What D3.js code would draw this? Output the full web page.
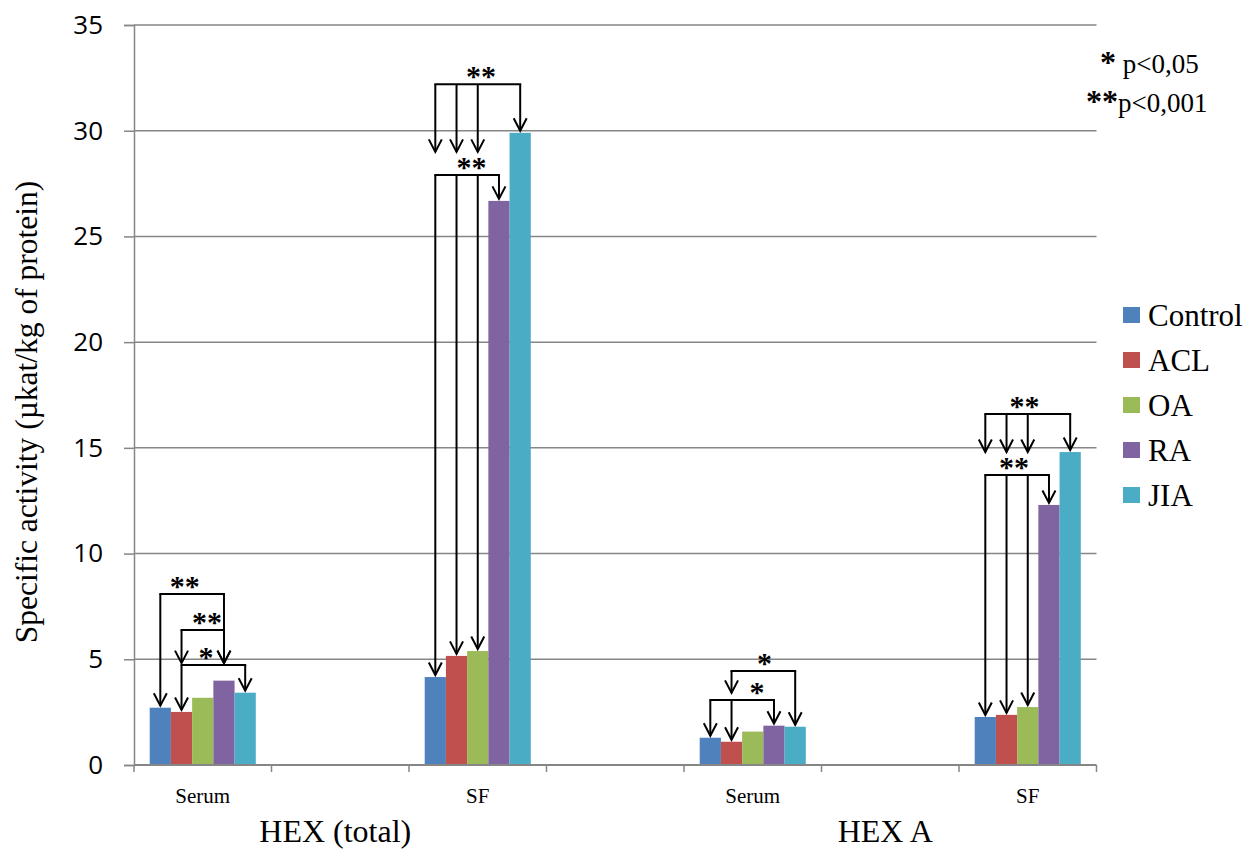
<!DOCTYPE html>
<html lang="en">
    <head>
        <meta charset="utf-8">
        <style>
            body { margin: 0; background: #fff; }
        </style>
    </head>
    <body>

        <svg id="mysvg" width="1256" height="849"></svg>

        <script src="https://cdn.jsdelivr.net/npm/d3@7"></script>

        <script>
            // categories on the x axis (empty slots are the gaps between groups)
            var categories = ["Serum", "", "SF", "", "Serum", "", "SF"];
            var groupTitles = ["HEX (total)", "HEX A"];
            var series = ["Control", "ACL", "OA", "RA", "JIA"];
            var colors = ["#4F81BD", "#C0504D", "#9BBB59", "#8064A2", "#4BACC6"];
            var yTicks = [0, 5, 10, 15, 20, 25, 30, 35];

            // values per series, one per category slot
            var control = [2.71, null, 4.16, null, 1.29, null, 2.27];
            var acl     = [2.51, null, 5.16, null, 1.10, null, 2.37];
            var oa      = [3.18, null, 5.39, null, 1.58, null, 2.74];
            var ra      = [3.99, null, 26.68, null, 1.86, null, 12.3];
            var jia     = [3.42, null, 29.9, null, 1.81, null, 14.8];
            var values = [control, acl, oa, ra, jia];

            // significance brackets: category, bracket level, label (+ where it sits, in series units),
            // arrows [series, tip value or null = bar top]
            var brackets = [
                {cat: 0, level: 8.09, label: "**", at: 1.15, arrows: [[0, null], [3, 4.82]]},
                {cat: 0, level: 6.39, label: "**", at: 2.2,  arrows: [[1, 4.82], [3, 4.82]]},
                {cat: 0, level: 4.73, label: "*",  at: 2.15, arrows: [[1, null], [4, null]]},
                {cat: 2, level: 32.2, label: "**", at: 2.15, arrows: [[0, 29.0], [1, 29.0], [2, 29.0], [4, null]]},
                {cat: 2, level: 27.9, label: "**", at: 1.7,  arrows: [[0, null], [1, null], [2, null], [3, null]]},
                {cat: 4, level: 4.45, label: "*",  at: 2.55, arrows: [[1, 3.41], [4, null]]},
                {cat: 4, level: 3.07, label: "*",  at: 2.2,  arrows: [[0, null], [1, null], [3, null]]},
                {cat: 6, level: 16.6, label: "**", at: 1.85, arrows: [[0, 14.8], [1, 14.8], [2, 14.8], [4, null]]},
                {cat: 6, level: 13.72, label: "**", at: 1.35, arrows: [[0, null], [1, null], [2, null], [3, null]]}
            ];

            var svg = d3.select("#mysvg");
            var plotLeft = 134, plotRight = 1096.5, plotTop = 25, plotBottom = 765;
            var serif = "'Liberation Serif', 'Times New Roman', serif";

            var x0 = d3.scaleBand()
                .domain(d3.range(categories.length))
                .range([plotLeft, plotRight]);

            var x1 = d3.scaleBand()
                .domain(d3.range(series.length))
                .range([0, x0.bandwidth()])
                .paddingOuter(0.74);

            var y = d3.scaleLinear()
                .domain([0, 35])
                .range([plotBottom, plotTop]);

            // gridlines
            svg.append("g")
                .selectAll("line")
                .data(yTicks.slice(1))
                .enter()
                .append("line")
                .attr("x1", plotLeft)
                .attr("x2", plotRight)
                .attr("y1", function(d){ return y(d); })
                .attr("y2", function(d){ return y(d); })
                .attr("stroke", "#868686")
                .attr("stroke-width", 1.5);

            // y axis
            var yAxis = svg.append("g")
                .attr("transform", "translate(" + plotLeft + ",0)")
                .call(d3.axisLeft(y).tickValues(yTicks).tickSize(10).tickPadding(21));
            yAxis.select(".domain").attr("stroke", "#868686").attr("stroke-width", 1.5);
            yAxis.selectAll(".tick line").attr("stroke", "#868686").attr("stroke-width", 1.5);
            yAxis.selectAll("text")
                .attr("font-family", "'Open Sans', sans-serif")
                .attr("font-size", 26)
                .attr("fill", "#000");

            // bars
            var groups = svg.append("g")
                .selectAll("g")
                .data(series)
                .enter()
                .append("g")
                .attr("fill", function(d, i){ return colors[i]; });

            groups.each(function(s, si){
                d3.select(this).selectAll("rect")
                    .data(values[si].map(function(v, ci){ return {v: v, c: ci}; })
                        .filter(function(d){ return d.v != null; }))
                    .enter()
                    .append("rect")
                    .attr("x", function(d){ return x0(d.c) + x1(si); })
                    .attr("width", x1.bandwidth())
                    .attr("y", function(d){ return y(d.v); })
                    .attr("height", function(d){ return plotBottom - y(d.v); });
            });

            // x axis with ticks between categories
            var xAxis = svg.append("g");
            xAxis.append("line")
                .attr("x1", plotLeft)
                .attr("x2", plotRight)
                .attr("y1", plotBottom)
                .attr("y2", plotBottom)
                .attr("stroke", "#868686")
                .attr("stroke-width", 2);
            xAxis.selectAll(".xt")
                .data(d3.range(categories.length + 1))
                .enter()
                .append("line")
                .attr("class", "xt")
                .attr("x1", function(d){ return plotLeft + d * x0.step(); })
                .attr("x2", function(d){ return plotLeft + d * x0.step(); })
                .attr("y1", plotBottom)
                .attr("y2", plotBottom + 7)
                .attr("stroke", "#868686")
                .attr("stroke-width", 1.5);
            xAxis.selectAll("text")
                .data(categories)
                .enter()
                .append("text")
                .attr("x", function(d, i){ return x0(i) + x0.bandwidth() / 2; })
                .attr("y", 803)
                .attr("text-anchor", "middle")
                .attr("font-family", serif)
                .attr("font-size", 21)
                .text(function(d){ return d; });

            // group titles under the axis
            svg.selectAll(".gt")
                .data(groupTitles)
                .enter()
                .append("text")
                .attr("class", "gt")
                .attr("x", function(d, i){
                    return (x0(i * 4) + x0(i * 4 + 2)) / 2 + x0.bandwidth() / 2 - 5;
                })
                .attr("y", 842)
                .attr("text-anchor", "middle")
                .attr("font-family", serif)
                .attr("font-size", 32)
                .text(function(d){ return d; });

            // y axis title
            svg.append("text")
                .attr("transform", "translate(37,412) rotate(-90)")
                .attr("text-anchor", "middle")
                .style("font-family", serif)
                .style("font-size", "31.5px")
                .text("Specific  activity (\u00b5kat/kg of protein)");

            // significance brackets
            var ann = svg.append("g")
                .attr("stroke", "#000")
                .attr("stroke-width", 2)
                .attr("fill", "none");

            brackets.forEach(function(b){
                var ly = y(b.level);
                var xs = b.arrows.map(function(a){
                    return x0(b.cat) + x1(a[0]) + x1.bandwidth() / 2;
                });
                ann.append("line")
                    .attr("x1", d3.min(xs) - 1)
                    .attr("x2", d3.max(xs) + 1)
                    .attr("y1", ly)
                    .attr("y2", ly);
                b.arrows.forEach(function(a, i){
                    var tip = a[1] == null ? y(values[a[0]][b.cat]) - 2 : y(a[1]);
                    ann.append("line")
                        .attr("x1", xs[i]).attr("x2", xs[i])
                        .attr("y1", ly).attr("y2", tip);
                    ann.append("path")
                        .attr("d", "M" + (xs[i] - 6.5) + "," + (tip - 12.5) + "L" + xs[i] + "," + tip + "L" + (xs[i] + 6.5) + "," + (tip - 12.5));
                });
                svg.append("text")
                    .attr("x", x0(b.cat) + x1(0) + x1.bandwidth() / 2 + b.at * x1.step())
                    .attr("y", ly + 2)
                    .attr("text-anchor", "middle")
                    .attr("font-family", serif)
                    .attr("font-weight", "bold")
                    .attr("font-size", 30)
                    .text(b.label);
            });

            // legend
            var legend = svg.append("g")
                .selectAll("g")
                .data(series)
                .enter()
                .append("g")
                .attr("transform", function(d, i){ return "translate(1123," + (307 + i * 45) + ")"; });
            legend.append("rect")
                .attr("width", 17)
                .attr("height", 16)
                .attr("fill", function(d, i){ return colors[i]; });
            legend.append("text")
                .attr("x", 25)
                .attr("y", 19)
                .attr("font-family", serif)
                .attr("font-size", 31)
                .text(function(d){ return d; });

            // p-value key
            var key = svg.append("g")
                .attr("font-family", serif)
                .attr("font-size", 27);
            var k1 = key.append("text").attr("x", 1100).attr("y", 73);
            k1.append("tspan").attr("font-weight", "bold").attr("font-size", 32).text("*");
            k1.append("tspan").text(" p<0,05");
            var k2 = key.append("text").attr("x", 1086).attr("y", 112);
            k2.append("tspan").attr("font-weight", "bold").attr("font-size", 32).text("**");
            k2.append("tspan").text("p<0,001");
        </script>

    </body>
</html>
